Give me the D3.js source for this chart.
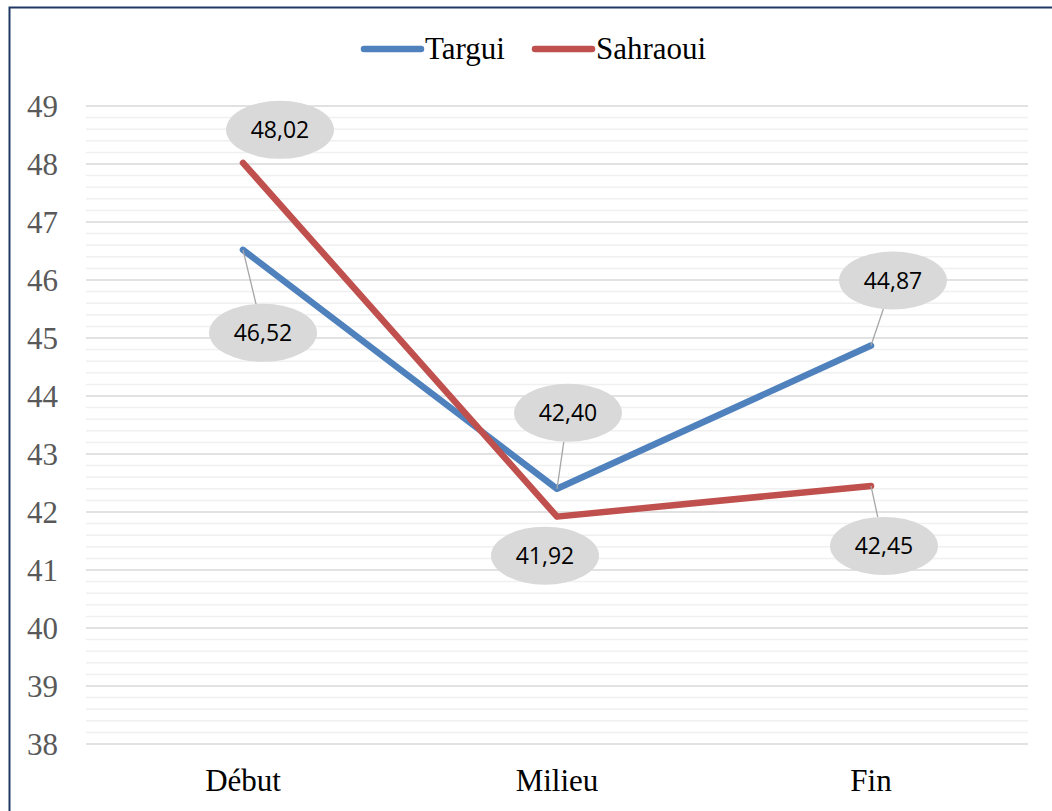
<!DOCTYPE html>
<html>
<head>
<meta charset="utf-8">
<script src="https://cdn.jsdelivr.net/npm/d3@7"></script>
<style>
  html, body { margin: 0; padding: 0; background: #ffffff; }
  svg { display: block; }
  .serif { font-family: "Liberation Serif", "Times New Roman", Times, "DejaVu Serif", serif; }
  .sans { font-family: "Open Sans", "Liberation Sans", sans-serif; }
</style>
</head>
<body>
<div id="chart"></div>
<script>
// Période de mesure
const categories = ["Début", "Milieu", "Fin"];

// Moyennes par groupe
const seriesNames = ["Targui", "Sahraoui"];
const targuiValues = [46.52, 42.40, 44.87];
const sahraouiValues = [48.02, 41.92, 42.45];

// Graduations de l'axe vertical
const yTicks = [38, 39, 40, 41, 42, 43, 44, 45, 46, 47, 48, 49];

const width = 1052, height = 811;
const margin = { left: 86, right: 24, top: 106, bottom: 67 };
const colors = { Targui: "#4f81bd", Sahraoui: "#c0504d" };

// Offsets (px) of each value bubble from its point, per series
const bubbleOffsets = {
  Targui:   [[20, 83], [11, -76], [22, -65]],
  Sahraoui: [[37, -33], [-12, 39], [13, 60]]
};

const series = [
  { name: "Targui", values: targuiValues },
  { name: "Sahraoui", values: sahraouiValues }
];

const svg = d3.select("#chart").append("svg")
  .attr("width", width).attr("height", height);

// Outer frame
svg.append("rect")
  .attr("x", 9.5).attr("y", 7.5)
  .attr("width", 1100).attr("height", 900)
  .attr("fill", "#ffffff")
  .attr("stroke", "#1f3864").attr("stroke-width", 2);

const x = d3.scaleBand()
  .domain(categories)
  .range([margin.left, width - margin.right]);

const y = d3.scaleLinear()
  .domain([d3.min(yTicks), d3.max(yTicks)])
  .range([height - margin.bottom, margin.top]);

// Minor gridlines every 0.2
const minorTicks = d3.range(38, 49.001, 0.2).map(v => +v.toFixed(1))
  .filter(v => Math.abs(v - Math.round(v)) > 1e-6);

svg.append("g").selectAll("line").data(minorTicks).join("line")
  .attr("x1", x.range()[0]).attr("x2", x.range()[1])
  .attr("y1", d => y(d)).attr("y2", d => y(d))
  .attr("stroke", "#f0f0f0").attr("stroke-width", 1.5);

// Major gridlines
svg.append("g").selectAll("line").data(yTicks).join("line")
  .attr("x1", x.range()[0]).attr("x2", x.range()[1])
  .attr("y1", d => y(d)).attr("y2", d => y(d))
  .attr("stroke", "#d9d9d9").attr("stroke-width", 1.5);

// Y axis labels
const yAxis = d3.axisLeft(y).tickValues(yTicks).tickSize(0).tickPadding(0)
  .tickFormat(d3.format("d"));
const yG = svg.append("g").attr("transform", "translate(58,0)").call(yAxis)
  .attr("font-family", null).attr("font-size", null);
yG.select(".domain").remove();
yG.selectAll("text")
  .attr("class", "serif")
  .style("font-size", "31px").attr("fill", "#595959").attr("dy", "0.34em");

// X axis labels
const xAxis = d3.axisBottom(x).tickSize(0).tickPadding(0);
const xG = svg.append("g").attr("transform", `translate(0,${height - margin.bottom})`).call(xAxis)
  .attr("font-family", null).attr("font-size", null);
xG.select(".domain").remove();
xG.selectAll("text")
  .attr("class", "serif")
  .style("font-size", "31px").attr("fill", "#000000").attr("dy", null).attr("y", 47);

const px = c => x(c) + x.bandwidth() / 2;

// Series lines
const line = d3.line()
  .x((d, i) => px(categories[i]))
  .y(d => y(d));

series.forEach(s => {
  svg.append("path")
    .datum(s.values)
    .attr("d", line)
    .attr("fill", "none")
    .attr("stroke", colors[s.name])
    .attr("stroke-width", 6.5)
    .attr("stroke-linejoin", "round")
    .attr("stroke-linecap", "round");
});

// Value bubbles with leader lines
const rx = 54, ry = 29;
const fmt = v => d3.format(".2f")(v).replace(".", ",");

series.forEach(s => {
  s.values.forEach((v, i) => {
    const x0 = px(categories[i]), y0 = y(v);
    const [dx, dy] = bubbleOffsets[s.name][i];
    const cx = x0 + dx, cy = y0 + dy;
    // leader line from point to ellipse edge, only when the bubble sits far away
    const ang = Math.atan2(y0 - cy, x0 - cx);
    const t = 1 / Math.sqrt(Math.pow(Math.cos(ang) / rx, 2) + Math.pow(Math.sin(ang) / ry, 2));
    const ex = cx + t * Math.cos(ang), ey = cy + t * Math.sin(ang);
    const dist = Math.hypot(x0 - cx, y0 - cy);
    if (dist > t + 20) {
      svg.append("line")
        .attr("x1", x0).attr("y1", y0).attr("x2", ex).attr("y2", ey)
        .attr("stroke", "#a6a6a6").attr("stroke-width", 1.3);
    }
    svg.append("ellipse")
      .attr("cx", cx).attr("cy", cy).attr("rx", rx).attr("ry", ry)
      .attr("fill", "#d9d9d9");
    svg.append("text")
      .attr("class", "sans")
      .attr("x", cx).attr("y", cy)
      .attr("text-anchor", "middle").attr("dy", "0.36em")
      .style("font-size", "23px").attr("fill", "#000000")
      .text(fmt(v));
  });
});

// Legend
const legendItems = [
  { name: seriesNames[0], x: 364 },
  { name: seriesNames[1], x: 535 }
];
const lg = svg.append("g");
legendItems.forEach(it => {
  lg.append("line")
    .attr("x1", it.x).attr("x2", it.x + 57)
    .attr("y1", 49).attr("y2", 49)
    .attr("stroke", colors[it.name]).attr("stroke-width", 6.5)
    .attr("stroke-linecap", "round");
  lg.append("text")
    .attr("class", "serif")
    .attr("x", it.x + 61).attr("y", 59)
    .style("font-size", "31px").attr("fill", "#000000")
    .text(it.name);
});
</script>
</body>
</html>
